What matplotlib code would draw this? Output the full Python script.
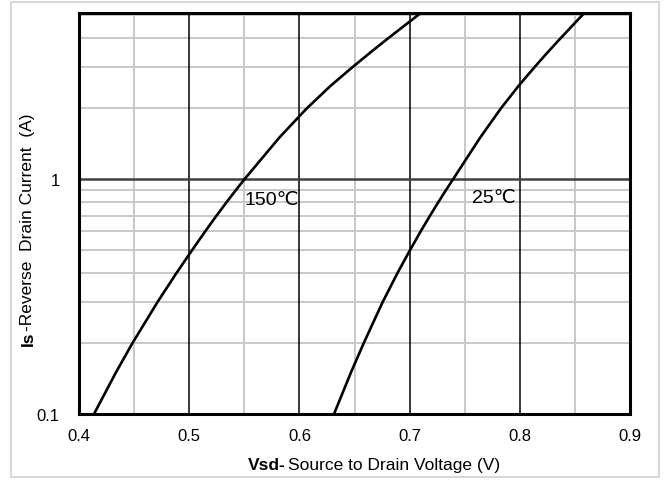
import matplotlib
matplotlib.use("Agg")
import matplotlib.pyplot as plt
from matplotlib.ticker import FixedLocator, NullFormatter

plt.rcParams['font.family'] = ['Liberation Sans', 'DejaVu Sans']

# curves (Vsd in V, Is in A)
i_150 = [0.1, 0.15, 0.2, 0.3, 0.4, 0.5, 0.6, 0.7, 0.8, 0.9,
         1.0, 1.5, 2.0, 2.5, 3.0, 3.5, 4.0, 5.1]
v_150 = [0.4136, 0.4334, 0.4484, 0.4713, 0.4887, 0.5028, 0.5146, 0.5249, 0.5341, 0.5425,
         0.5502, 0.5816, 0.6066, 0.6284, 0.6482, 0.6656, 0.6811, 0.7101]

i_25 = [0.1, 0.15, 0.2, 0.3, 0.4, 0.5, 0.6, 0.7, 0.8, 0.9,
        1.0, 1.5, 2.0, 2.5, 3.0, 3.5, 4.0, 5.1]
v_25 = [0.6314, 0.6467, 0.6583, 0.6756, 0.6892, 0.7005, 0.7101, 0.7186, 0.7262, 0.7331,
        0.7395, 0.7639, 0.7828, 0.7990, 0.8134, 0.8260, 0.8374, 0.8585]

x_ticks = [0.4, 0.5, 0.6, 0.7, 0.8, 0.9]
x_minor = [0.45, 0.55, 0.65, 0.75, 0.85]
y_ticks = [0.1, 1]
y_minor = [0.2, 0.3, 0.4, 0.5, 0.6, 0.7, 0.8, 0.9, 2, 3, 4, 5]

W, H = 665, 485
fig = plt.figure(figsize=(W / 100, H / 100), dpi=100)
ax = fig.add_axes([79 / W, 1 - 415 / H, (630 - 79) / W, (415 - 14) / H])

ax.set_yscale('log')
ax.set_xlim(0.4, 0.9)
ax.set_ylim(0.1, 5.1)

# grid
for x in x_minor:
    ax.axvline(x, color='#c8c8c8', lw=1.4, zorder=1)
for x in x_ticks[1:-1]:
    ax.axvline(x, color='black', lw=1.1, zorder=2)
for y in y_minor:
    ax.axhline(y, color='#c8c8c8', lw=1.4, zorder=1)
ax.axhline(1, color='#404040', lw=1.8, zorder=2)

ax.plot(v_150, i_150, color='black', lw=1.9, zorder=3, solid_joinstyle='round')
ax.plot(v_25, i_25, color='black', lw=1.9, zorder=3, solid_joinstyle='round')

ax.xaxis.set_major_locator(FixedLocator(x_ticks))
ax.set_xticklabels(['0.4', '0.5', '0.6', '0.7', '0.8', '0.9'])
ax.yaxis.set_major_locator(FixedLocator(y_ticks))
ax.set_yticklabels(['0.1', '1'])
ax.yaxis.set_minor_formatter(NullFormatter())
ax.tick_params(which='both', length=0, labelsize=12)
ax.tick_params(axis='x', pad=10)
ax.tick_params(axis='y', pad=14)

for s in ax.spines.values():
    s.set_linewidth(2.2)
    s.set_zorder(4)

fam = ['Liberation Sans', 'DejaVu Sans']
ax.text(0.5506, 0.822, '150\u2103', fontsize=14, family=fam, ha='left', va='center')
ax.text(0.7566, 0.838, '25\u2103', fontsize=14, family=fam, ha='left', va='center')

# axis titles with bold prefix
fig.text(286 / W, 1 - 466 / H, 'Vsd-', fontsize=12.5, fontweight='bold', ha='right', va='center')
fig.text(288 / W, 1 - 466 / H, 'Source to Drain Voltage (V)', fontsize=12.5, ha='left', va='center')
fig.text(28 / W, 1 - 331 / H, 'Is', fontsize=12.5, fontweight='bold', rotation=90, ha='center', va='top')
fig.text(28 / W, 1 - 331 / H, '-Reverse  Drain Current  (A)', fontsize=12.5, rotation=90, ha='center', va='bottom')

# light outer frame
fig.patches.append(plt.Rectangle((11 / W, 1 - 478 / H), (659 - 11) / W, (478 - 3) / H,
                                 transform=fig.transFigure, fill=False, edgecolor='#d0d0d0', lw=1.2))

fig.savefig('out.png', dpi=100)
